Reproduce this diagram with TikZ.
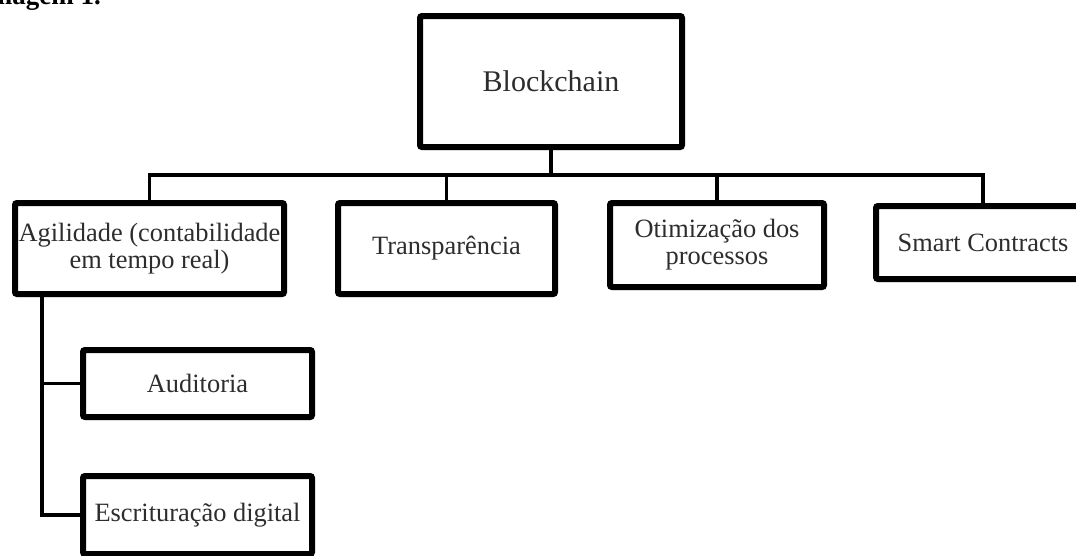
\documentclass[tikz,border=0pt]{standalone}
\usepackage{fontspec}
\setmainfont{Liberation Serif}
\usepackage{tikz}
\usetikzlibrary{positioning,shadows}
\definecolor{BoxText}{RGB}{45,45,45}

\begin{document}
\begin{tikzpicture}[x=1pt,y=-1pt,
    box/.style={draw=black,line width=6pt,rounded corners=2pt,fill=white,text=BoxText,
      align=center,inner sep=0pt,font=\fontsize{26.4}{27}\selectfont,
      drop shadow={opacity=0.25,shadow xshift=2pt,shadow yshift=-3pt}},
    link/.style={draw=black,line width=3.5pt}]
        \path[use as bounding box] (0,0) rectangle (1076,555);
        \clip (0,0) rectangle (1076,555);
        % caption, cut off by the page edge
        \node[font=\bfseries\fontsize{27}{27}\selectfont,anchor=base east,inner sep=0pt] (title)
          at (101,4) {Imagem 1.};
        \node[box,minimum width=262pt,minimum height=131pt,font=\fontsize{30}{32}\selectfont] (chain)
          at (551,81.5) {Blockchain};
        \node[box,minimum width=269pt,minimum height=91pt] (agil)
          at (149.5,248.5) {Agilidade (contabilidade\\em tempo real)};
        \node[box,minimum width=217pt,minimum height=91pt] (transp)
          at (446.5,248.5) {Transparência};
        \node[box,minimum width=214pt,minimum height=84pt] (otim)
          at (717,245) {Otimização dos\\processos};
        \node[box,minimum width=214pt,minimum height=73pt] (smart)
          at (983,242.5) {Smart Contracts};
        \node[box,minimum width=229pt,minimum height=67pt] (audit)
          at (197.5,383.5) {Auditoria};
        \node[box,minimum width=229pt,minimum height=78pt] (escr)
          at (197.5,515) {Escrituração digital};
        % tree lines
        \foreach \child in {agil,transp,otim,smart}
          \draw[link] (chain.south) -- +(0,25) -| (\child.north);
        \coordinate (trunk) at ([xshift=30pt]agil.south west);
        \draw[link] (trunk) |- (audit.west);
        \draw[link] (trunk) |- (escr.west);
      \end{tikzpicture}
\end{document}
